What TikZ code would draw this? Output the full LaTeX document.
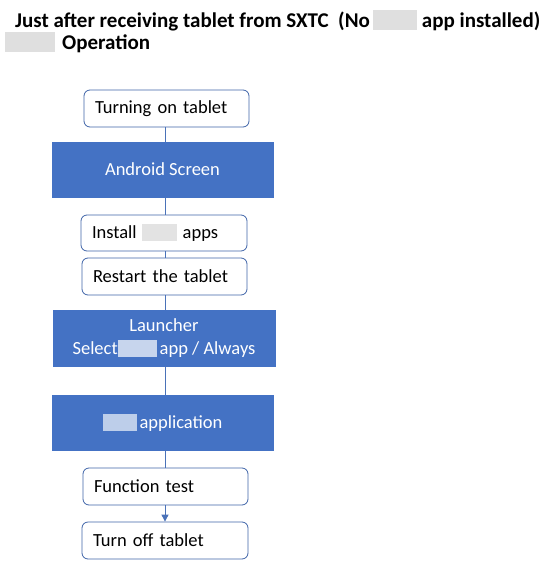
\documentclass[tikz,border=0pt]{standalone}
\usepackage{fontspec}
\setmainfont{Carlito}
\usetikzlibrary{arrows.meta}
\definecolor{ablue}{HTML}{4472C4}
\definecolor{aline}{HTML}{4A72B8}
\definecolor{aedge}{HTML}{3F64A8}
\newcommand\blurpatch[2]{{\color{#1}\rule[-0.12em]{#2}{0.92em}}}
\tikzset{
  rbox/.style={draw=aedge, line width=0.8pt, rounded corners=6pt, fill=white,
    align=left, inner xsep=11pt, inner ysep=0pt, font=\fontsize{18.5}{22}\selectfont},
  bbox/.style={draw=ablue, fill=ablue, text=white, align=center, inner sep=0pt,
    font=\fontsize{18.5}{22}\selectfont},
  conn/.style={draw=aline, line width=0.9pt}
}
\begin{document}
\begin{tikzpicture}[x=1pt,y=-1pt]
\useasboundingbox (0,0) rectangle (555,579);
% title
\node[anchor=base west, inner sep=0pt, font=\bfseries\fontsize{21}{25}\selectfont] (t1) at (15,27)
  {Just after receiving tablet from SXTC\ \ (No\hspace{3pt}\blurpatch{gray!25}{44pt}\hspace{5pt}app installed)};
\node[anchor=base west, inner sep=0pt, font=\bfseries\fontsize{21}{25}\selectfont] (t2) at (5,49)
  {\blurpatch{gray!25}{50pt}\hspace{7pt}Operation};
% boxes
\node[rbox, text width=143pt, minimum height=37pt] (b1) at (166.5,108.5) {Turning on tablet};
\node[bbox, minimum width=221pt, minimum height=55pt] (b2) at (162.5,169.5) {Android Screen};
\node[rbox, text width=144pt, minimum height=36pt] (b3) at (164,233) {Install\hspace{5pt}\blurpatch{gray!22}{35pt}\hspace{6pt}apps};
\node[rbox, text width=143pt, minimum height=37pt] (b4) at (164.5,276.5) {Restart the tablet};
\node[bbox, minimum width=222pt, minimum height=56pt] (b5) at (164,338) {Launcher\\[1pt]Select\blurpatch{ablue!30!white}{39pt}\hspace{3pt}app / Always};
\node[bbox, minimum width=221pt, minimum height=55pt] (b6) at (162.5,422.5) {\blurpatch{ablue!35!white}{34pt}\hspace{3pt}application};
\node[rbox, text width=143pt, minimum height=37pt] (b7) at (165.5,486.5) {Function test};
\node[rbox, text width=144pt, minimum height=37pt] (b8) at (165,540.5) {Turn off tablet};
% connectors
\draw[conn] (b1.south -| 165,0) -- (b2.north -| 165,0);
\draw[conn] (b2.south -| 165,0) -- (b3.north -| 165,0);
\draw[conn] (b3.south -| 165,0) -- (b4.north -| 165,0);
\draw[conn] (b4.south -| 165,0) -- (b5.north -| 165,0);
\draw[conn] (b5.south -| 165,0) -- (b6.north -| 165,0);
\draw[conn] (b6.south -| 165,0) -- (b7.north -| 165,0);
\draw[conn, -{Triangle[width=7pt,length=7pt]}] (b7.south -| 165,0) -- (b8.north -| 165,0);
\end{tikzpicture}
\end{document}
